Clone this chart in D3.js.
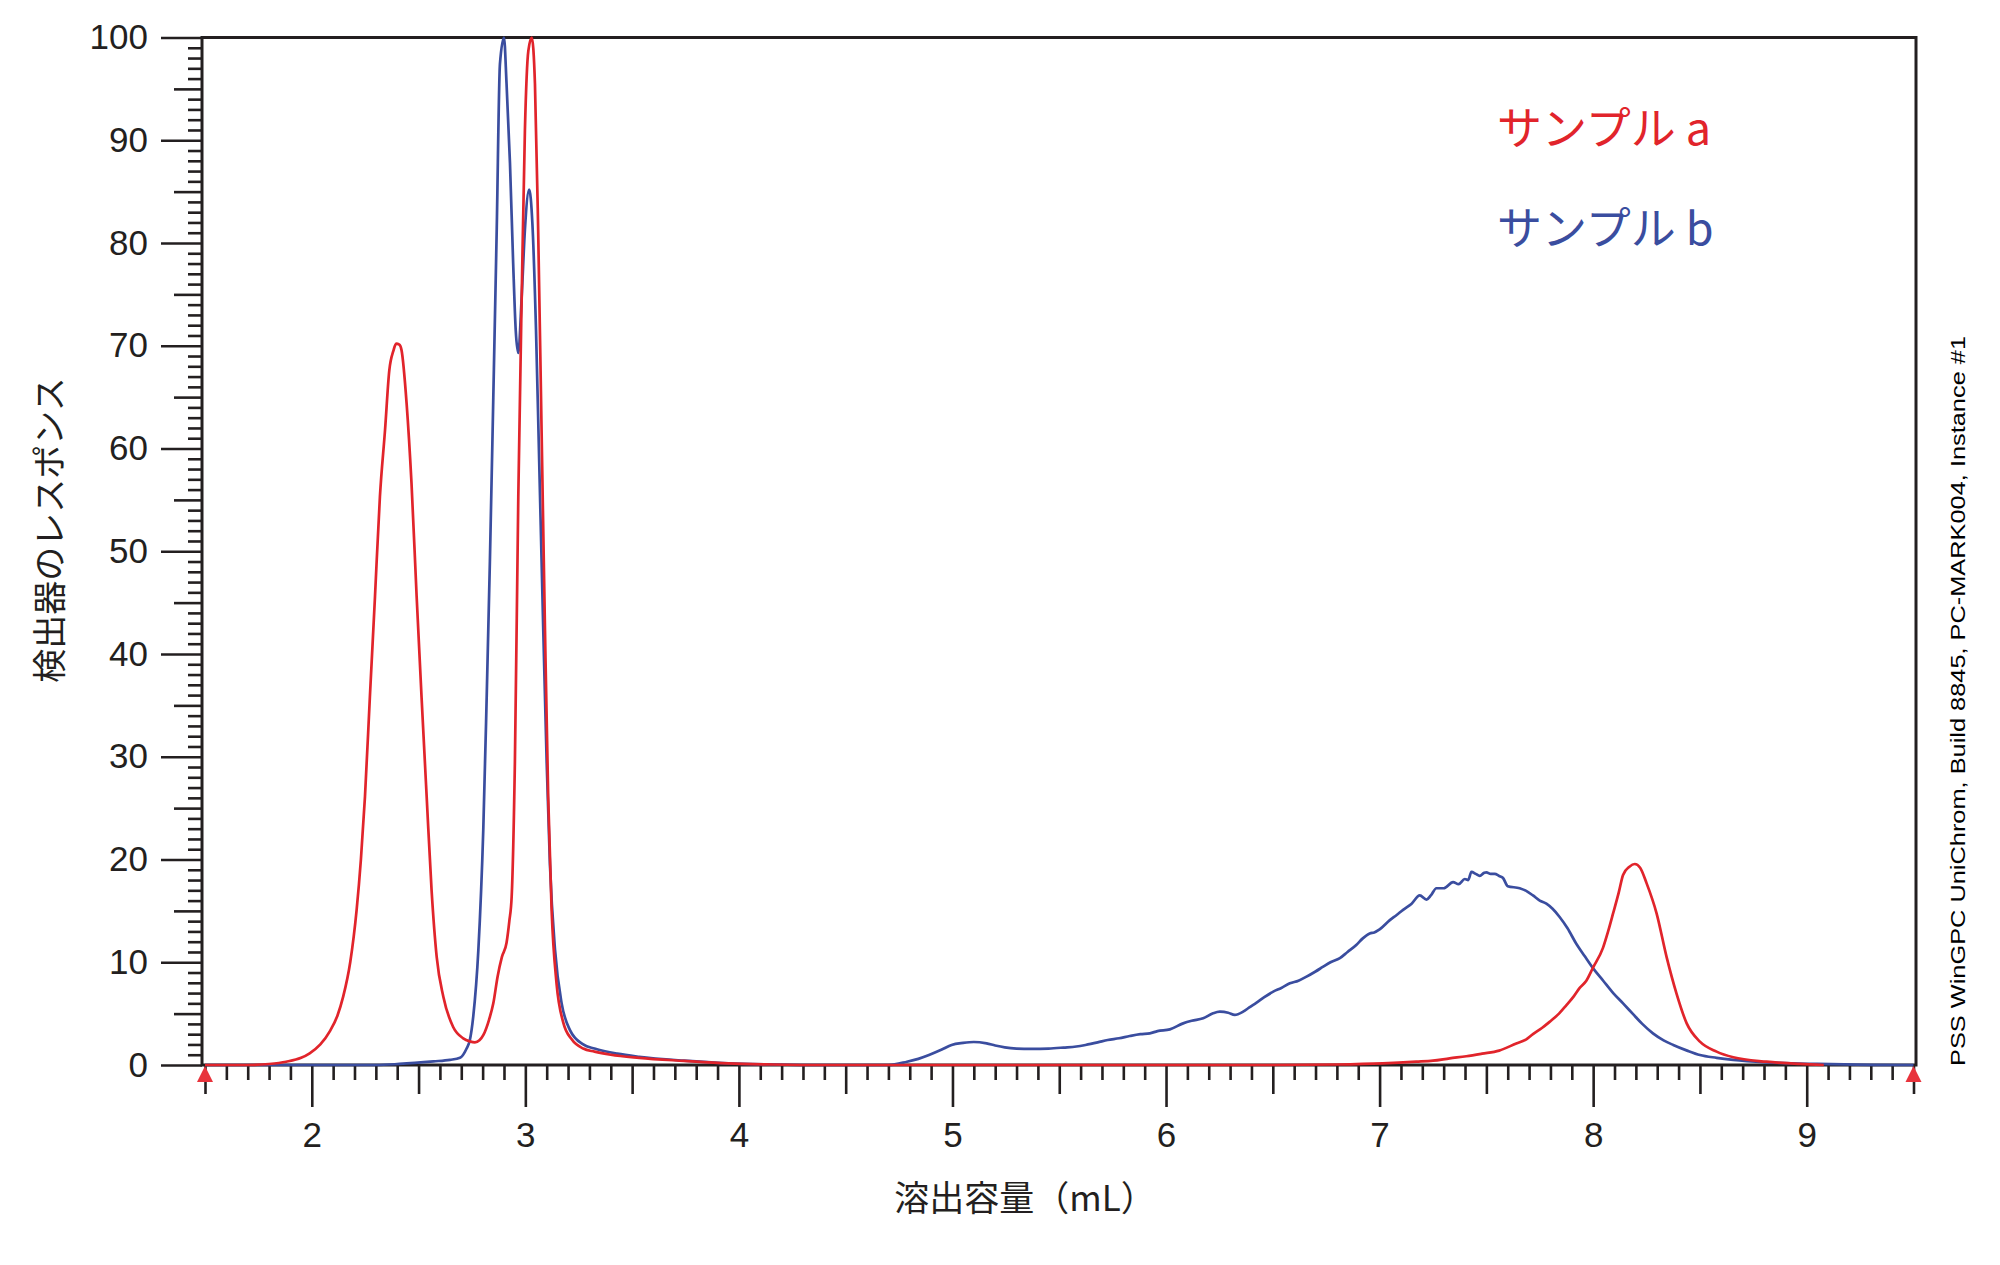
<!DOCTYPE html>
<html>
<head>
<meta charset="utf-8">
<script src="https://cdn.jsdelivr.net/npm/d3@7"></script>
<style>
  body { margin: 0; background: #fff; }
  svg { display: block; }
</style>
</head>
<body>
<div id="chart"></div>
<script>
// sample a (red) elution volume / response
const volumeA = [1.5, 1.7, 1.8, 1.88, 1.95, 1.99, 2.04, 2.085, 2.12, 2.147, 2.18, 2.21, 2.23, 2.249, 2.272,
  2.296, 2.319, 2.343, 2.363, 2.382, 2.395, 2.41, 2.42, 2.444, 2.467, 2.491, 2.514, 2.538, 2.561, 2.585,
  2.616, 2.662, 2.709, 2.74, 2.764, 2.785, 2.803, 2.83, 2.85, 2.87, 2.89, 2.912, 2.925, 2.936, 2.951,
  2.967, 2.983, 2.998, 3.014, 3.03, 3.045, 3.06, 3.076, 3.092, 3.107, 3.123, 3.146, 3.178, 3.217, 3.271,
  3.324, 3.4, 3.533, 3.743, 3.95, 4.16, 4.4, 5, 6, 6.5, 6.8, 7.015, 7.172, 7.25, 7.328, 7.406, 7.48, 7.56,
  7.64, 7.687, 7.718, 7.76, 7.796, 7.84, 7.874, 7.91, 7.937, 7.968, 8.0, 8.046, 8.07, 8.094, 8.12, 8.14,
  8.17, 8.195, 8.22, 8.25, 8.297, 8.344, 8.39, 8.438, 8.5, 8.578, 8.656, 8.812, 8.968, 9.08]
const responseA = [0, 0, 0.1, 0.32, 0.7, 1.14, 2.0, 3.3, 4.8, 6.65, 10, 15.1, 20, 26.1, 35.8,
  45.6, 55.3, 61.8, 67.6, 69.5, 70.2, 70.1, 69.6, 64.4, 56.6, 45.6, 35.8, 26.1, 17.0, 10.5,
  6.65, 3.7, 2.6, 2.3, 2.2, 2.4, 2.9, 4.4, 6.0, 8.6, 10.5, 11.9, 14, 16.4, 29.4,
  55.3, 74.8, 91, 98.7, 100, 95.5, 81.3, 61.8, 42.3, 26.1, 15.1, 7.95, 4.1, 2.5, 1.6,
  1.3, 1.0, 0.7, 0.4, 0.15, 0.05, 0, 0, 0, 0, 0.05, 0.16, 0.32, 0.42, 0.65, 0.85, 1.1, 1.4,
  2.1, 2.5, 3.0, 3.6, 4.2, 5.0, 5.8, 6.7, 7.5, 8.2, 9.5, 11.4, 13, 14.8, 16.8, 18.5,
  19.3, 19.56, 19.2, 17.7, 14.76, 10.5, 6.98, 4.05, 2.27, 1.3, 0.75, 0.32, 0.1, 0]

// sample b (blue) elution volume / response
const volumeB = [1.5, 2.3, 2.41, 2.57, 2.647, 2.694, 2.725, 2.74, 2.756, 2.78, 2.803, 2.819, 2.834, 2.85,
  2.866, 2.881, 2.9, 2.912, 2.928, 2.943, 2.955, 2.967, 2.983, 2.998, 3.018, 3.033, 3.05, 3.065, 3.084,
  3.1, 3.115, 3.139, 3.17, 3.209, 3.271, 3.324, 3.43, 3.533, 3.743, 3.95, 4.16, 4.4, 4.7, 4.787, 4.84,
  4.89, 4.95, 4.996, 5.05, 5.1, 5.16, 5.2, 5.245, 5.3, 5.37, 5.45, 5.52, 5.58, 5.623, 5.68, 5.727, 5.78,
  5.83, 5.88, 5.924, 5.96, 6.018, 6.08, 6.12, 6.174, 6.22, 6.252, 6.291, 6.322, 6.361, 6.39, 6.424, 6.46,
  6.502, 6.54, 6.58, 6.62, 6.658, 6.7, 6.736, 6.77, 6.814, 6.85, 6.892, 6.92, 6.954, 6.975, 7.0, 7.048,
  7.08, 7.11, 7.15, 7.188, 7.22, 7.24, 7.266, 7.3, 7.344, 7.37, 7.399, 7.415, 7.43, 7.45, 7.469, 7.49,
  7.5, 7.52, 7.539, 7.56, 7.578, 7.6, 7.656, 7.69, 7.718, 7.75, 7.781, 7.81, 7.843, 7.88, 7.921, 7.96,
  8.0, 8.047, 8.094, 8.14, 8.187, 8.23, 8.28, 8.33, 8.375, 8.44, 8.5, 8.578, 8.656, 8.81, 9.05, 9.3, 9.5]
const responseB = [0, 0, 0.1, 0.35, 0.5, 0.7, 1.6, 2.4, 4.7, 11.2, 22.9, 35.8, 49, 65,
  81.3, 97.4, 100, 95.5, 87.8, 78, 71.5, 69.3, 74.8, 81.3, 85.2, 81.9, 71.5, 58.6, 42.3,
  29.4, 19.6, 11.2, 6.0, 3.4, 2.0, 1.6, 1.1, 0.8, 0.42, 0.16, 0.05, 0, 0, 0.32, 0.6,
  0.97, 1.5, 1.95, 2.15, 2.24, 2.1, 1.9, 1.72, 1.6, 1.56, 1.6, 1.7, 1.8, 1.95, 2.2, 2.43, 2.6,
  2.82, 3.0, 3.08, 3.3, 3.47, 4.05, 4.3, 4.54, 5.03, 5.19, 5.09, 4.87, 5.19, 5.6, 6.07, 6.6,
  7.14, 7.5, 7.95, 8.2, 8.6, 9.1, 9.57, 10.0, 10.4, 11.0, 11.7, 12.3, 12.8, 12.9, 13.2, 14.1,
  14.6, 15.1, 15.7, 16.5, 16.1, 16.5, 17.2, 17.2, 17.8, 17.6, 18.1, 18.0, 18.8, 18.6, 18.4, 18.7,
  18.75, 18.6, 18.6, 18.4, 18.2, 17.4, 17.2, 16.9, 16.5, 16.0, 15.7, 15.2, 14.4, 13.3, 11.8, 10.6,
  9.4, 8.2, 7.0, 6.0, 4.95, 4.0, 3.08, 2.4, 1.95, 1.4, 0.97, 0.7, 0.5, 0.26, 0.1, 0.02, 0]

const xTicks = [2, 3, 4, 5, 6, 7, 8, 9]
const yTicks = [0, 10, 20, 30, 40, 50, 60, 70, 80, 90, 100]
const integrationLimits = [1.5, 9.5]
const legendLabels = ['サンプル\u00a0a', 'サンプル\u00a0b']
const xTitle = '溶出容量（mL）'
const yTitle = '検出器のレスポンス'
const footnote = 'PSS WinGPC UniChrom, Build 8845, PC-MARK004, Instance #1'

const red = '#e1242b'
const blue = '#3a4d9f'
const ink = '#231f20'
const tickFont = '"Liberation Sans", Arial, sans-serif'
const jpFont = '"Noto Sans CJK JP", "Noto Sans", sans-serif'

const W = 2000, H = 1265
const frame = { left: 202, right: 1916, top: 37.5, bottom: 1065 }

const svg = d3.select('#chart').append('svg')
  .attr('width', W)
  .attr('height', H)

const x = d3.scaleLinear().domain([1.5, 9.5]).range([205, 1913.5])
const y = d3.scaleLinear().domain([0, 100]).range([frame.bottom, frame.top])

// x axis: minor, half and major ticks
function xAxisLayer(values, size, labels) {
  const g = svg.append('g')
    .attr('transform', `translate(0,${frame.bottom})`)
    .call(d3.axisBottom(x).tickValues(values).tickSize(size).tickPadding(15)
      .tickFormat(labels ? d3.format('d') : ''))
  g.select('.domain').remove()
  g.selectAll('line').attr('stroke', ink).attr('stroke-width', 2.6)
  g.selectAll('text').attr('fill', ink).style('font-family', tickFont).style('font-size', '35px')
}
const xMinor = d3.range(15, 96).map(d => d / 10).filter(d => Math.round(d * 10) % 5 !== 0)
const xHalf = d3.range(3, 20, 2).map(d => d / 2)
xAxisLayer(xMinor, 15, false)
xAxisLayer(xHalf, 29, false)
xAxisLayer(xTicks, 42, true)

// y axis: minor, five and major ticks
function yAxisLayer(values, size, labels) {
  const g = svg.append('g')
    .attr('transform', `translate(${frame.left},0)`)
    .call(d3.axisLeft(y).tickValues(values).tickSize(size).tickPadding(13)
      .tickFormat(labels ? d3.format('d') : ''))
  g.select('.domain').remove()
  g.selectAll('line').attr('stroke', ink).attr('stroke-width', 2.6)
  g.selectAll('text').attr('fill', ink).style('font-family', tickFont).style('font-size', '35px')
}
yAxisLayer(d3.range(0, 101).filter(d => d % 5 !== 0), 14, false)
yAxisLayer(d3.range(5, 100, 10), 28, false)
yAxisLayer(yTicks, 41, true)

// frame
svg.append('rect')
  .attr('x', frame.left)
  .attr('y', frame.top)
  .attr('width', frame.right - frame.left)
  .attr('height', frame.bottom - frame.top)
  .attr('fill', 'none')
  .attr('stroke', ink)
  .attr('stroke-width', 3)

// traces
const line = d3.line()
  .x(d => x(d[0]))
  .y(d => y(d[1]))
  .curve(d3.curveMonotoneX)

svg.append('path')
  .datum(d3.zip(volumeB, responseB))
  .attr('d', line)
  .attr('fill', 'none')
  .attr('stroke', blue)
  .attr('stroke-width', 2.7)
  .attr('stroke-linejoin', 'round')

svg.append('path')
  .datum(d3.zip(volumeA, responseA))
  .attr('d', line)
  .attr('fill', 'none')
  .attr('stroke', red)
  .attr('stroke-width', 2.7)
  .attr('stroke-linejoin', 'round')

// integration limit markers
svg.selectAll('path.limit')
  .data(integrationLimits)
  .join('path')
  .attr('class', 'limit')
  .attr('d', d => {
    const cx = x(d), top = frame.bottom + 1
    return `M${cx},${top} L${cx + 8},${top + 16} L${cx - 8},${top + 16} Z`
  })
  .attr('fill', '#e8333c')

// legend
svg.selectAll('text.legend')
  .data(legendLabels)
  .join('text')
  .attr('class', 'legend')
  .attr('x', 1497)
  .attr('y', (d, i) => 145 + i * 100)
  .attr('fill', (d, i) => i === 0 ? red : blue)
  .style('font-family', jpFont)
  .style('font-size', '45px')
  .text(d => d)

// axis titles
svg.append('text')
  .attr('x', 1025)
  .attr('y', 1195)
  .attr('text-anchor', 'middle')
  .attr('dominant-baseline', 'central')
  .attr('fill', ink)
  .style('font-family', jpFont)
  .style('font-size', '35px')
  .text(xTitle)

svg.append('text')
  .attr('transform', 'translate(47,530) rotate(-90)')
  .attr('text-anchor', 'middle')
  .attr('dominant-baseline', 'central')
  .attr('fill', ink)
  .style('font-family', jpFont)
  .style('font-size', '34px')
  .text(yTitle)

// software footnote on the right
svg.append('text')
  .attr('transform', 'translate(1965,1066) rotate(-90)')
  .attr('textLength', 730)
  .attr('lengthAdjust', 'spacingAndGlyphs')
  .attr('fill', '#000')
  .style('font-family', tickFont)
  .style('font-size', '21px')
  .text(footnote)
</script>
</body>
</html>
